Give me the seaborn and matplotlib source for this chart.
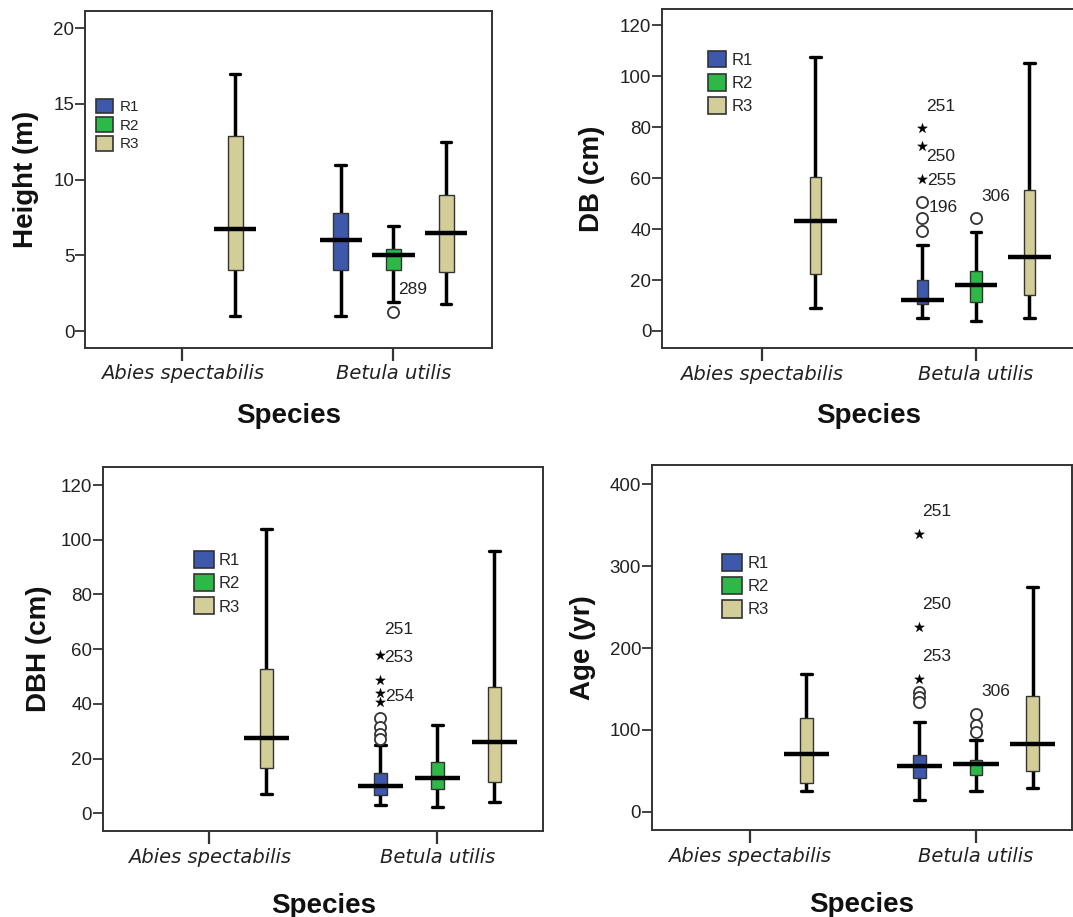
import matplotlib
matplotlib.use("Agg")
import matplotlib.pyplot as plt
from matplotlib.patches import Patch
import pandas as pd
import seaborn as sns

# ---------------- data ----------------
species = ["Abies spectabilis", "Betula utilis"]
regions = ["R1", "R2", "R3"]
region_colors = ["#3E58AC", "#2EB848", "#D3CE97"]

# boxes present in every panel (Abies spectabilis only has R3)
group_species = ["Abies spectabilis", "Betula utilis", "Betula utilis", "Betula utilis"]
group_regions = ["R3", "R1", "R2", "R3"]

# five-number summaries: whisker low, Q1, median, Q3, whisker high
height_stats = [[1.0, 4.0, 6.75, 12.9, 17.0],
                [1.0, 4.0, 6.0, 7.8, 11.0],
                [1.9, 4.0, 5.0, 5.45, 6.95],
                [1.8, 3.9, 6.5, 9.0, 12.5]]
db_stats = [[8.9, 22.4, 43.0, 60.3, 107.6],
            [5.0, 10.4, 12.2, 20.0, 33.7],
            [4.0, 11.2, 18.2, 23.6, 38.9],
            [5.0, 14.1, 28.9, 55.4, 105.0]]
dbh_stats = [[6.9, 16.4, 27.6, 52.7, 103.8],
             [3.0, 6.7, 10.0, 14.6, 25.0],
             [2.2, 9.0, 13.0, 18.9, 32.4],
             [4.2, 11.6, 26.0, 46.3, 96.0]]
age_stats = [[25.3, 34.7, 70.5, 114.0, 168.0],
             [15.0, 40.8, 55.8, 69.3, 110.0],
             [25.7, 44.8, 58.0, 63.0, 88.0],
             [28.6, 50.0, 82.7, 141.4, 275.0]]

# outliers (all Betula utilis): region, value, kind ('o' outlier, '*' extreme), case label
height_out_region = ["R2"]
height_out_value = [1.26]
height_out_kind = ["o"]
height_out_label = ["289"]

db_out_region = ["R1", "R1", "R1", "R1", "R1", "R1", "R2"]
db_out_value = [79.5, 72.5, 59.6, 50.5, 44.2, 39.3, 44.2]
db_out_kind = ["*", "*", "*", "o", "o", "o", "o"]
db_out_label = ["251", "250", "255", "196", "", "", "306"]

dbh_out_region = ["R1", "R1", "R1", "R1", "R1", "R1", "R1", "R1"]
dbh_out_value = [57.9, 48.7, 44.1, 40.8, 35.0, 31.5, 29.0, 27.0]
dbh_out_kind = ["*", "*", "*", "*", "o", "o", "o", "o"]
dbh_out_label = ["251", "253", "", "254", "", "", "", ""]

age_out_region = ["R1", "R1", "R1", "R1", "R1", "R1", "R2", "R2", "R2"]
age_out_value = [339.0, 226.0, 161.8, 146.0, 140.0, 134.0, 120.0, 106.0, 98.0]
age_out_kind = ["*", "*", "*", "o", "o", "o", "o", "o", "o"]
age_out_label = ["251", "250", "253", "", "", "", "306", "", ""]

# ---------------- style / layout ----------------
W, H = 1073, 917
region_offset = {"R1": -0.25, "R2": 0.0, "R3": 0.25}

sns.set_style("white")
plt.rcParams["font.family"] = ["Liberation Sans", "DejaVu Sans"]

fig = plt.figure(figsize=(W / 100, H / 100), dpi=100)

panels = [
    dict(stats=height_stats, oreg=height_out_region, oval=height_out_value,
         okind=height_out_kind, olab=height_out_label,
         loff=[(5, 22)],
         ylabel="Height (m)", yticks=[0, 5, 10, 15, 20], ylim=(-1.10, 21.14),
         xlim=(-0.46, 1.469), rect=(85.4, 11, 492.4, 347.7), ylabelpad=10,
         xlabelpad=14, box_w=0.07, leg=(96.4, 98.5), leg_fs=11, leg_hl=1.11,
         leg_hh=1.11, leg_ls=0.2, leg_tp=0.39),
    dict(stats=db_stats, oreg=db_out_region, oval=db_out_value,
         okind=db_out_kind, olab=db_out_label,
         loff=[(4, 21.6), (4, -10.7), (5, -1.7), (6, -5), None, None, (5, 21.6)],
         ylabel="DB (cm)", yticks=[0, 20, 40, 60, 80, 100, 120], ylim=(-6.67, 126.3),
         xlim=(-0.465, 1.463), rect=(662.4, 9, 1075, 348), ylabelpad=11,
         xlabelpad=14, box_w=0.055, leg=(708, 51), leg_fs=12, leg_hl=1.08,
         leg_hh=1.14, leg_ls=0.38, leg_tp=0.36),
    dict(stats=dbh_stats, oreg=dbh_out_region, oval=dbh_out_value,
         okind=dbh_out_kind, olab=dbh_out_label,
         loff=[(3.3, 25), (3.3, 22.7), None, (5, 5), None, None, None, None],
         ylabel="DBH (cm)", yticks=[0, 20, 40, 60, 80, 100, 120], ylim=(-6.47, 126.6),
         xlim=(-0.465, 1.463), rect=(103.3, 467, 543, 831), ylabelpad=6.5,
         xlabelpad=19, box_w=0.055, leg=(193.9, 551), leg_fs=12, leg_hl=1.2,
         leg_hh=1.2, leg_ls=0.36, leg_tp=0.3),
    dict(stats=age_stats, oreg=age_out_region, oval=age_out_value,
         okind=age_out_kind, olab=age_out_label,
         loff=[(3, 22.7), (3, 22.7), (3, 22.7), None, None, None, (5, 21.6), None, None],
         ylabel="Age (yr)", yticks=[0, 100, 200, 300, 400], ylim=(-22.2, 423.6),
         xlim=(-0.431, 1.424), rect=(652.2, 465, 1072, 830), ylabelpad=10,
         xlabelpad=19, box_w=0.055, leg=(721.8, 553.5), leg_fs=12, leg_hl=1.22,
         leg_hh=1.26, leg_ls=0.33, leg_tp=0.3),
]

MED_W = 0.2
CAP_W = 0.05
betula_idx = species.index("Betula utilis")

for p in panels:
    l, t, r, b = p["rect"]
    ax = fig.add_axes([l / W, 1 - b / H, (r - l) / W, (b - t) / H])

    positions, bstats, colors = [], [], []
    for sp, rg, s in zip(group_species, group_regions, p["stats"]):
        positions.append(species.index(sp) + region_offset[rg])
        bstats.append(dict(whislo=s[0], q1=s[1], med=s[2], q3=s[3], whishi=s[4], fliers=[]))
        colors.append(region_colors[regions.index(rg)])

    bp = ax.bxp(bstats, positions=positions, widths=p["box_w"],
                capwidths=CAP_W, patch_artist=True, showfliers=False,
                boxprops=dict(edgecolor="#333333", linewidth=1.0),
                whiskerprops=dict(color="black", linewidth=2.5, solid_capstyle="butt"),
                capprops=dict(color="black", linewidth=2.4),
                medianprops=dict(linewidth=0), manage_ticks=False)
    for patch, c in zip(bp["boxes"], colors):
        patch.set_facecolor(c)
        patch.set_zorder(3)
    meds = [s[2] for s in p["stats"]]
    ax.hlines(meds, [x - MED_W / 2 for x in positions], [x + MED_W / 2 for x in positions],
              color="black", linewidth=3.2, zorder=4)

    # outliers
    odf = pd.DataFrame({
        "x": [betula_idx + region_offset[rg] for rg in p["oreg"]],
        "y": p["oval"],
        "kind": p["okind"],
    })
    circ = odf[odf["kind"] == "o"]
    star = odf[odf["kind"] == "*"]
    if len(circ):
        sns.scatterplot(data=circ, x="x", y="y", ax=ax, marker="o", s=64,
                        facecolor="white", edgecolor="#333333", linewidth=1.3,
                        zorder=5, legend=False)
    if len(star):
        sns.scatterplot(data=star, x="x", y="y", ax=ax, marker="*", s=55,
                        color="black", edgecolor="black", linewidth=0.3,
                        zorder=5, legend=False)
    for xv, yv, lab, off in zip(odf["x"], odf["y"], p["olab"], p["loff"]):
        if lab and off is not None:
            ax.annotate(lab, xy=(xv, yv), xytext=off, textcoords="offset pixels",
                        ha="left", va="center", fontsize=12.5, color="#222222",
                        family="Liberation Sans", zorder=6)

    # axes styling
    ax.set_xlim(*p["xlim"])
    ax.set_ylim(*p["ylim"])
    ax.set_yticks(p["yticks"])
    ax.set_yticklabels([str(v) for v in p["yticks"]], fontsize=13.5,
                       family="Liberation Sans", color="#222222")
    ax.set_xticks(range(len(species)))
    ax.set_xticklabels(species, fontsize=14, fontstyle="italic",
                       family="DejaVu Sans", color="#222222")
    ax.tick_params(axis="y", direction="out", length=7, width=1.3, pad=1,
                   color="#333333", left=True)
    ax.tick_params(axis="x", direction="out", length=9.5, width=1.6, pad=2.5,
                   color="#333333", bottom=True)
    for sp_ in ax.spines.values():
        sp_.set_visible(True)
        sp_.set_color("#333333")
        sp_.set_linewidth(1.4)
    ax.set_xlabel("Species", fontsize=20, fontweight="bold",
                  family="Liberation Sans", labelpad=p["xlabelpad"], color="#111111")
    ax.set_ylabel(p["ylabel"], fontsize=20, fontweight="bold",
                  family="Liberation Sans", labelpad=p["ylabelpad"], color="#111111")
    ax.grid(False)
    ax.set_facecolor("white")

    handles = [Patch(facecolor=c, edgecolor="#333333", linewidth=1.2) for c in region_colors]
    lx, ly = p["leg"]
    ax.legend(handles, regions, loc="upper left",
              bbox_to_anchor=(lx / W, 1 - ly / H), bbox_transform=fig.transFigure,
              frameon=False, borderpad=0, borderaxespad=0,
              handlelength=p["leg_hl"], handleheight=p["leg_hh"],
              labelspacing=p["leg_ls"], handletextpad=p["leg_tp"],
              prop={"family": "Liberation Sans", "size": p["leg_fs"]})

fig.savefig("out.png", dpi=100, facecolor="white")
